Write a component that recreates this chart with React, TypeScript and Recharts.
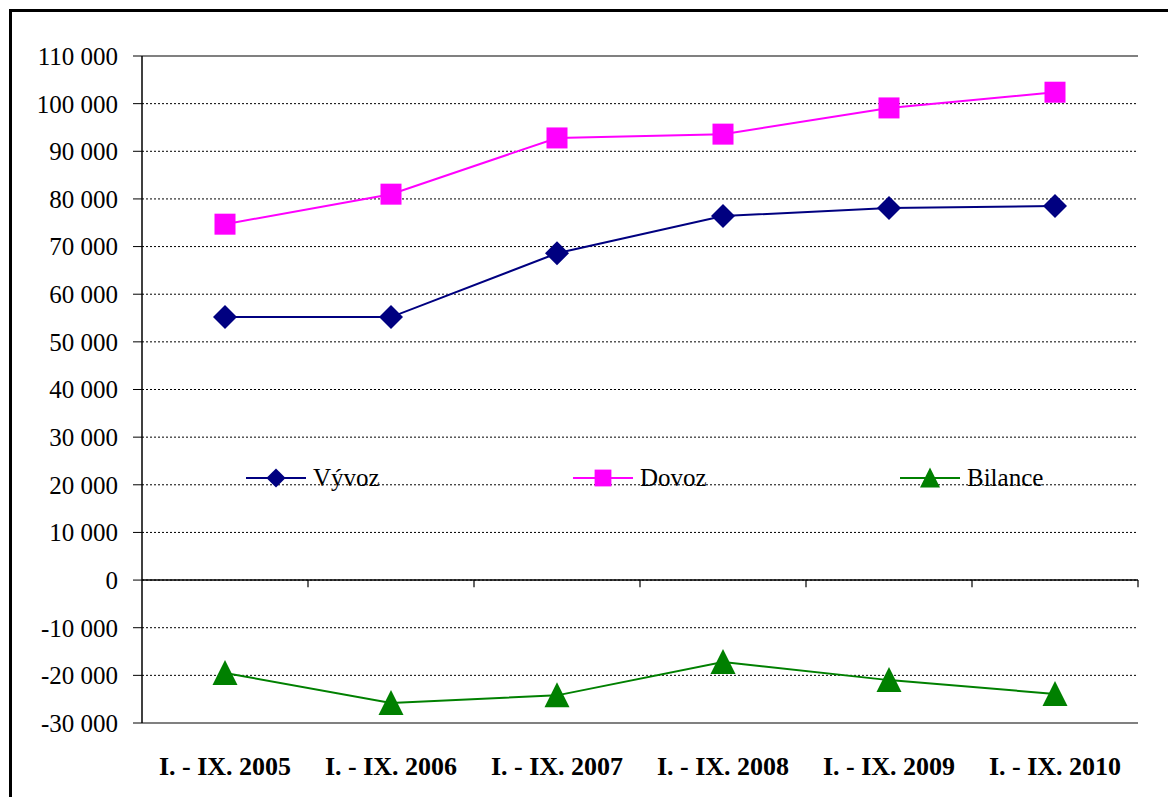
import { LineChart, Line, XAxis, YAxis, CartesianGrid, ReferenceLine, Legend } from 'recharts'

const periods = ['I. - IX. 2005', 'I. - IX. 2006', 'I. - IX. 2007', 'I. - IX. 2008', 'I. - IX. 2009', 'I. - IX. 2010']
const vyvoz = [55200, 55200, 68600, 76400, 78100, 78500]
const dovoz = [74700, 81000, 92800, 93600, 99100, 102400]
const bilance = [-19500, -25800, -24200, -17200, -21000, -23900]
const yTicks = [-30000, -20000, -10000, 0, 10000, 20000, 30000, 40000, 50000, 60000, 70000, 80000, 90000, 100000, 110000]
const seriesOrder = ['vyvoz', 'dovoz', 'bilance']

const NAVY = '#000080'
const PINK = '#FF00FF'
const GREEN = '#008000'
const FONT = "'Liberation Serif', Tinos, 'Times New Roman', 'DejaVu Serif', serif"

const data = periods.map((p, i) => ({ idx: i, period: p, vyvoz: vyvoz[i], dovoz: dovoz[i], bilance: bilance[i] }))
const catTicks = periods.map((_, i) => i)
// category boundaries (between bands), where the small tick marks sit on the zero line
const boundaries = periods.map((_, i) => i + 0.5)

const fmt = (v: number) => {
  const s = Math.abs(v).toString().replace(/\B(?=(\d{3})+(?!\d))/g, ' ')
  return v < 0 ? '-' + s : s
}

function Marker({ kind, cx, cy, s = 1 }: { kind: string; cx: number; cy: number; s?: number }) {
  if (kind === 'vyvoz') {
    const r = 12 * s
    return <polygon points={`${cx},${cy - r} ${cx + r},${cy} ${cx},${cy + r} ${cx - r},${cy}`} fill={NAVY} />
  }
  if (kind === 'dovoz') {
    const h = 10.5 * s
    return <rect x={cx - h} y={cy - h} width={2 * h} height={2 * h} fill={PINK} />
  }
  const w = 12.5 * s
  return <polygon points={`${cx},${cy - 13 * s} ${cx + w},${cy + 12 * s} ${cx - w},${cy + 12 * s}`} fill={GREEN} />
}

const dotFor = (kind: string) => (props: any) => (
  <Marker key={`${kind}-${props.index}`} kind={kind} cx={props.cx} cy={props.cy} />
)

function LegendContent(props: any) {
  const items = [...(props.payload || [])].sort(
    (a: any, b: any) => seriesOrder.indexOf(a.dataKey) - seriesOrder.indexOf(b.dataKey)
  )
  return (
    <div style={{ display: 'flex', fontFamily: FONT, fontSize: 25, color: '#000' }}>
      {items.map((it: any) => (
        <div key={it.dataKey} style={{ width: 327, display: 'flex', alignItems: 'center' }}>
          <svg width={60} height={26}>
            <line x1={0} y1={13} x2={60} y2={13} stroke={it.color} strokeWidth={2} />
            <Marker kind={it.dataKey} cx={30} cy={13} s={0.8} />
          </svg>
          <span style={{ marginLeft: 7 }}>{it.value}</span>
        </div>
      ))}
    </div>
  )
}

export default function App() {
  return (
    <div style={{ position: 'relative', margin: -8, width: 1176, height: 805, overflow: 'hidden', background: '#fff', fontFamily: FONT }}>
      <div style={{ position: 'absolute', left: 9, top: 9, width: 1200, height: 900, border: '3px solid #000' }} />
      <div style={{ position: 'absolute', left: 0, top: 0 }}>
        <LineChart width={1176} height={805} data={data} margin={{ top: 56, right: 38, left: 0, bottom: 0 }} style={{ fontFamily: FONT }}>
          <CartesianGrid vertical={false} stroke="#000" strokeDasharray="2 2" />
          <XAxis
            dataKey="idx"
            type="number"
            domain={[-0.5, 5.5]}
            ticks={catTicks}
            interval={0}
            tickFormatter={(i: number) => periods[i]}
            height={82}
            axisLine={{ stroke: '#808080', strokeWidth: 2 }}
            tickLine={false}
            tickSize={0}
            tickMargin={34}
            tick={{ fontSize: 26, fontWeight: 'bold', fill: '#000', fontFamily: FONT }}
          />
          <YAxis
            width={142}
            domain={[-30000, 110000]}
            ticks={yTicks}
            interval={0}
            tickFormatter={fmt}
            axisLine={{ stroke: '#000', strokeWidth: 1.5 }}
            tickLine={{ stroke: '#000' }}
            tickSize={9}
            tickMargin={15}
            tick={{ fontSize: 25, fill: '#000', fontFamily: FONT }}
          />
          <YAxis yAxisId="right" orientation="right" width={0} domain={[-30000, 110000]} tick={false} axisLine={{ stroke: '#808080', strokeWidth: 2 }} />
          <ReferenceLine y={110000} stroke="#808080" strokeWidth={2} />
          <ReferenceLine y={0} stroke="#000" strokeWidth={1.5} />
          {boundaries.map((b) => (
            <ReferenceLine
              key={b}
              segment={[{ x: b, y: 0 }, { x: b, y: -1500 }]}
              stroke="#000"
              strokeWidth={1.2}
            />
          ))}
          <Legend
            layout="horizontal"
            verticalAlign="middle"
            align="center"
            wrapperStyle={{ left: 246, top: 464, width: 1000 }}
            content={<LegendContent />}
          />
          <Line dataKey="vyvoz" name="Vývoz" stroke={NAVY} strokeWidth={2} dot={dotFor('vyvoz')} isAnimationActive={false} />
          <Line dataKey="dovoz" name="Dovoz" stroke={PINK} strokeWidth={2} dot={dotFor('dovoz')} isAnimationActive={false} />
          <Line dataKey="bilance" name="Bilance" stroke={GREEN} strokeWidth={2} dot={dotFor('bilance')} isAnimationActive={false} />
        </LineChart>
      </div>
    </div>
  )
}
